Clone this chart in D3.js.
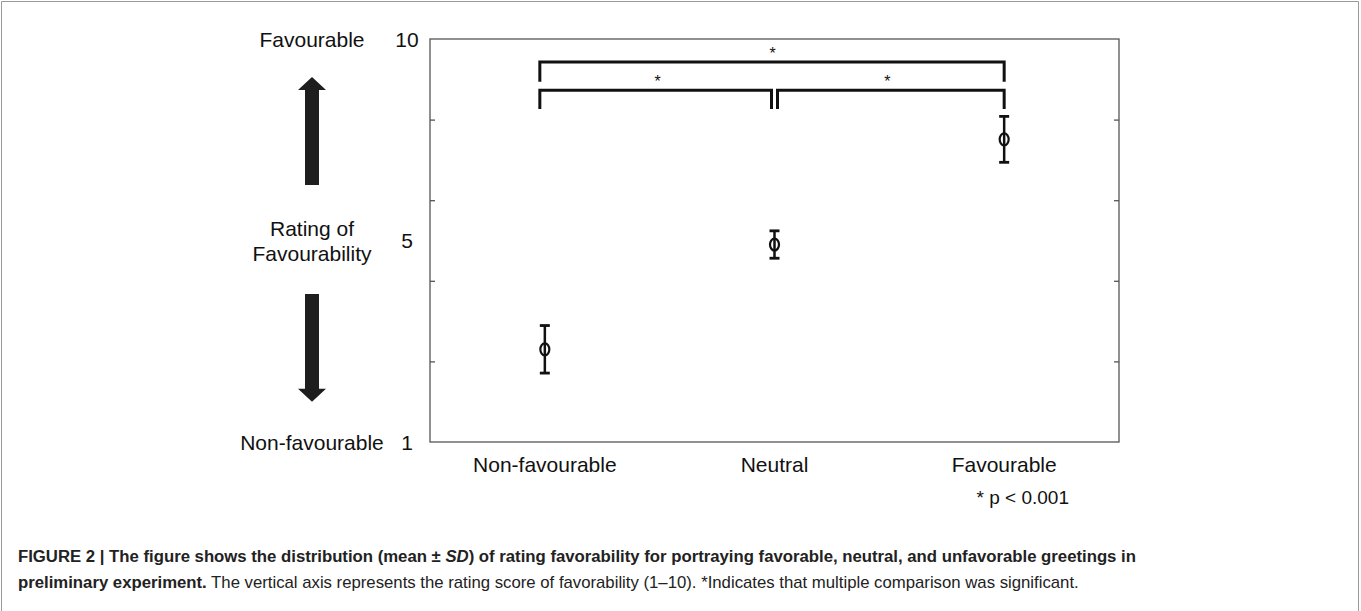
<!DOCTYPE html>
<html>
<head>
<meta charset="utf-8">
<script src="https://cdn.jsdelivr.net/npm/d3@7"></script>
<style>
  body { margin: 0; background: #fff; }
  text { font-family: "Liberation Sans", Arial, sans-serif; fill: #111; }
</style>
</head>
<body>
<script>
// Group names and mean ± SD
var categories = ['Non-favourable', 'Neutral', 'Favourable'];
var means = [2.30, 4.90, 7.51];
var sds = [0.59, 0.34, 0.57];

// Frame runs 0..10, unlabeled ticks every 2; side labels are placed by value
var yTicks = [2, 4, 6, 8];
var yLabels = [
  { v: 10, num: '10', words: ['Favourable'] },
  { v: 5, num: '5', words: ['Rating of', 'Favourability'] },
  { v: 0, num: '1', words: ['Non-favourable'] }
];

// Big arrows beside the axis (value at shaft end, value at tip)
var arrows = [
  { from: 6.38, to: 9.06 },
  { from: 3.67, to: 1.0 }
];

// Significance brackets: category indexes, y of bar and of leg ends
var brackets = [
  { from: 0, to: 2, top: 9.43, bottom: 8.94 },
  { from: 0, to: 1, top: 8.73, bottom: 8.26 },
  { from: 1, to: 2, top: 8.73, bottom: 8.26 }
];

var W = 1361, H = 611;
var plot = { left: 430, right: 1119, top: 39, bottom: 442 };

var svg = d3.select('body').append('svg')
  .attr('width', W)
  .attr('height', H);

// figure border (top, left, right)
svg.append('path')
  .attr('d', 'M1.5,' + (H + 5) + 'V1.5H' + (W - 2.5) + 'V' + (H + 5))
  .attr('fill', 'none')
  .attr('stroke', '#999')
  .attr('stroke-width', 1);

var x = d3.scalePoint()
  .domain(categories)
  .range([plot.left, plot.right])
  .padding(0.5);

var y = d3.scaleLinear()
  .domain([0, 10])
  .range([plot.bottom, plot.top]);

// plot frame
svg.append('rect')
  .attr('x', plot.left)
  .attr('y', plot.top)
  .attr('width', plot.right - plot.left)
  .attr('height', plot.bottom - plot.top)
  .attr('fill', 'none')
  .attr('stroke', '#555')
  .attr('stroke-width', 1.3);

// inward ticks on both sides
var leftAxis = svg.append('g')
  .attr('transform', 'translate(' + plot.left + ',0)')
  .call(d3.axisRight(y).tickValues(yTicks).tickSize(5).tickFormat(''));
var rightAxis = svg.append('g')
  .attr('transform', 'translate(' + plot.right + ',0)')
  .call(d3.axisLeft(y).tickValues(yTicks).tickSize(5).tickFormat(''));
[leftAxis, rightAxis].forEach(function(g) {
  g.select('.domain').remove();
  g.selectAll('line').attr('stroke', '#555').attr('stroke-width', 1.3);
});

// numbers next to the frame
svg.selectAll('.ynum')
  .data(yLabels)
  .enter().append('text')
  .attr('class', 'ynum')
  .attr('x', 407)
  .attr('y', function(d) { return y(d.v) + 7.5; })
  .attr('text-anchor', 'middle')
  .style('font-size', '21px')
  .text(function(d) { return d.num; });

// words on the far left
yLabels.forEach(function(d) {
  var n = d.words.length;
  d.words.forEach(function(w, i) {
    svg.append('text')
      .attr('x', 312)
      .attr('y', y(d.v) + 7.5 + (i - (n - 1) / 2) * 25)
      .attr('text-anchor', 'middle')
      .style('font-size', '21px')
      .text(w);
  });
});

// arrows
var ax = 312;
svg.selectAll('.arrow')
  .data(arrows)
  .enter().append('path')
  .attr('class', 'arrow')
  .attr('fill', '#1e1e1e')
  .attr('d', function(d) {
    var y0 = y(d.from), y1 = y(d.to);
    var dir = y1 < y0 ? 1 : -1; // 1 = pointing up
    var hb = y1 + dir * 13; // base of head
    return 'M' + (ax - 7) + ',' + y0 +
      'L' + (ax - 7) + ',' + hb +
      'L' + (ax - 14) + ',' + hb +
      'L' + ax + ',' + y1 +
      'L' + (ax + 14) + ',' + hb +
      'L' + (ax + 7) + ',' + hb +
      'L' + (ax + 7) + ',' + y0 + 'Z';
  });

// category labels
svg.selectAll('.xlab')
  .data(categories)
  .enter().append('text')
  .attr('class', 'xlab')
  .attr('x', function(d) { return x(d); })
  .attr('y', 472)
  .attr('text-anchor', 'middle')
  .style('font-size', '21px')
  .text(function(d) { return d; });

svg.append('text')
  .attr('x', 1069)
  .attr('y', 504)
  .attr('text-anchor', 'end')
  .style('font-size', '19px')
  .text('* p < 0.001');

// error bars
var gBars = svg.selectAll('.ebar')
  .data(categories)
  .enter().append('g')
  .attr('class', 'ebar')
  .attr('transform', function(d) { return 'translate(' + x(d) + ',0)'; });

gBars.append('line')
  .attr('y1', function(d, i) { return y(means[i] + sds[i]); })
  .attr('y2', function(d, i) { return y(means[i] - sds[i]); })
  .attr('stroke', '#111')
  .attr('stroke-width', 2.5);

[1, -1].forEach(function(s) {
  gBars.append('line')
    .attr('x1', -5)
    .attr('x2', 5)
    .attr('y1', function(d, i) { return y(means[i] + s * sds[i]); })
    .attr('y2', function(d, i) { return y(means[i] + s * sds[i]); })
    .attr('stroke', '#111')
    .attr('stroke-width', 2.8);
});

gBars.append('ellipse')
  .attr('cy', function(d, i) { return y(means[i]); })
  .attr('rx', 4.5)
  .attr('ry', 6)
  .attr('fill', 'none')
  .attr('stroke', '#111')
  .attr('stroke-width', 2.2);

// significance brackets
var mid = 1;
svg.selectAll('.bracket')
  .data(brackets)
  .enter().append('path')
  .attr('class', 'bracket')
  .attr('fill', 'none')
  .attr('stroke', '#111')
  .attr('stroke-width', 3)
  .attr('d', function(b) {
    var x0 = x(categories[b.from]) + (b.from === mid ? 3 : (b.from === 0 ? -5 : 0));
    var x1 = x(categories[b.to]) - (b.to === mid ? 3 : 0);
    return 'M' + x0 + ',' + y(b.bottom) + 'V' + y(b.top) + 'H' + x1 + 'V' + y(b.bottom);
  });

svg.selectAll('.star')
  .data(brackets)
  .enter().append('text')
  .attr('class', 'star')
  .attr('x', function(b) { return (x(categories[b.from]) + x(categories[b.to])) / 2 - 2; })
  .attr('y', function(b) { return y(b.top) - 3; })
  .attr('text-anchor', 'middle')
  .style('font-size', '16px')
  .text('*');

// caption, squeezed to the printed line widths
var cap1 = svg.append('text')
  .attr('transform', 'translate(18,562)')
  .style('font-size', '16px')
  .style('font-weight', 'bold')
  .style('fill', '#222');
cap1.append('tspan').text('FIGURE 2 | The figure shows the distribution (mean \u00b1 ');
cap1.append('tspan').style('font-style', 'italic').text('SD');
cap1.append('tspan').text(') of rating favorability for portraying favorable, neutral, and unfavorable greetings in');

var cap2 = svg.append('text')
  .attr('transform', 'translate(18,588)')
  .style('font-size', '16px')
  .style('fill', '#222');
cap2.append('tspan').style('font-weight', 'bold').text('preliminary experiment.');
cap2.append('tspan').text(' The vertical axis represents the rating score of favorability (1\u201310). *Indicates that multiple comparison was significant.');

[[cap1, 1119, 562], [cap2, 1062, 588]].forEach(function(c) {
  var len = c[0].node().getComputedTextLength();
  c[0].attr('transform', 'translate(18,' + c[2] + ') scale(' + (c[1] / len) + ',1)');
});
</script>
</body>
</html>
